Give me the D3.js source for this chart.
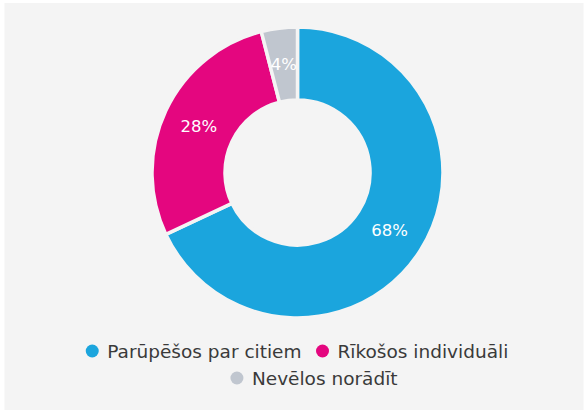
<!DOCTYPE html>
<html>
<head>
<meta charset="utf-8">
<script src="https://cdn.jsdelivr.net/npm/d3@7"></script>
<style>
  html, body { margin: 0; padding: 0; background: #ffffff; }
  svg { display: block; }
  text { font-family: "DejaVu Sans", "Open Sans", sans-serif; }
</style>
</head>
<body>
<svg id="chart" width="585" height="410"></svg>
<script>
// Survey answers and their shares (%)
const categories = ["Parūpēšos par citiem", "Rīkošos individuāli", "Nevēlos norādīt"];
const shares = [68, 28, 4];
const colors = ["#1ba5dd", "#e4067f", "#c0c6cf"];

const width = 585, height = 410;
const svg = d3.select("#chart");

// panel background
svg.append("rect")
  .attr("x", 4.5).attr("y", 3)
  .attr("width", 579).attr("height", 407)
  .attr("fill", "#f4f4f4");

const cx = 297.5, cy = 172.5;
const outerR = 145.5, innerR = 72.5;

const data = categories.map((c, i) => ({ name: c, value: shares[i], color: colors[i] }));

const pie = d3.pie().value(d => d.value).sort(null);
const arc = d3.arc().innerRadius(innerR).outerRadius(outerR);
const labelArc = d3.arc().innerRadius((innerR + outerR) / 2).outerRadius((innerR + outerR) / 2);

const g = svg.append("g").attr("transform", `translate(${cx},${cy})`);
const arcs = pie(data);

g.selectAll("path.slice")
  .data(arcs)
  .join("path")
  .attr("class", "slice")
  .attr("d", arc)
  .attr("fill", d => d.data.color)
  .attr("stroke", "#f4f4f4")
  .attr("stroke-width", 3.5)
  .attr("stroke-linejoin", "round");

g.selectAll("text.lbl")
  .data(arcs)
  .join("text")
  .attr("class", "lbl")
  .attr("transform", d => `translate(${labelArc.centroid(d)})`)
  .attr("text-anchor", "middle")
  .attr("dominant-baseline", "central")
  .attr("fill", "#ffffff")
  .attr("font-size", 16.5)
  .text(d => d.data.value + "%");

// legend: two rows, items centred
const legendRows = [[0, 1], [2]];
const rowY = [351, 378];
const rowCenter = [297, 314];
const fontSize = 18.5, dotR = 6.5, dotGap = 8.5, itemGap = 14.5;

const legend = svg.append("g");
legendRows.forEach((row, ri) => {
  const rg = legend.append("g");
  let x = 0;
  row.forEach((idx, k) => {
    const item = rg.append("g").attr("transform", `translate(${x},0)`);
    item.append("circle")
      .attr("cx", dotR).attr("cy", 0).attr("r", dotR)
      .attr("fill", colors[idx]);
    const t = item.append("text")
      .attr("x", dotR * 2 + dotGap)
      .attr("y", 0)
      .attr("dominant-baseline", "central")
      .attr("fill", "#3a3a3a")
      .attr("font-size", fontSize)
      .text(categories[idx]);
    const w = t.node().getComputedTextLength();
    x += dotR * 2 + dotGap + w + (k < row.length - 1 ? itemGap : 0);
  });
  rg.attr("transform", `translate(${rowCenter[ri] - x / 2},${rowY[ri]})`);
});
</script>
</body>
</html>
